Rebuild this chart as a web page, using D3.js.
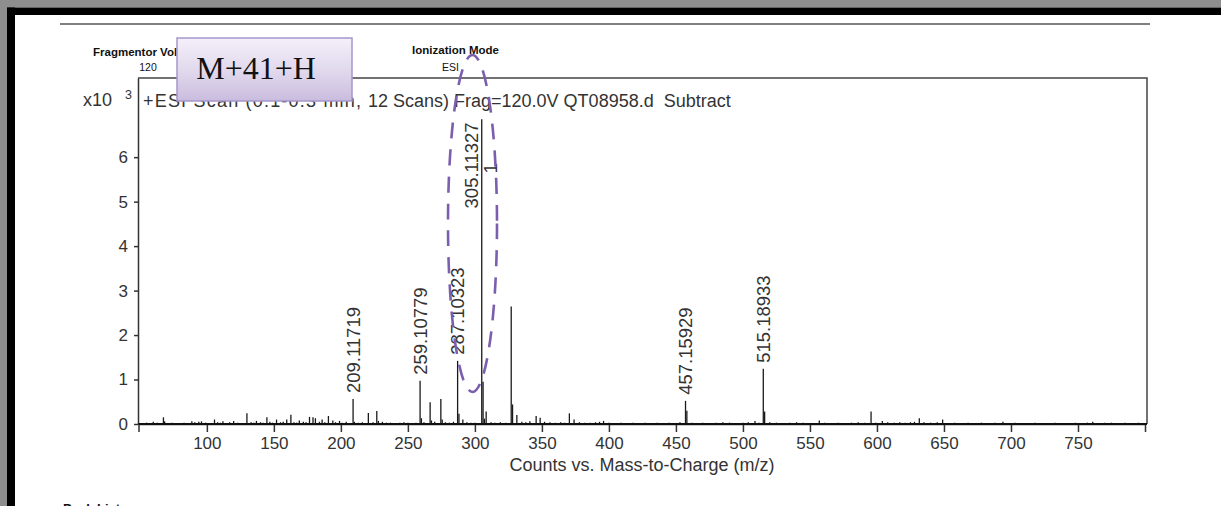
<!DOCTYPE html>
<html>
<head>
<meta charset="utf-8">
<script src="https://cdn.jsdelivr.net/npm/d3@7"></script>
<style>
  html, body { margin: 0; padding: 0; background: #fff; }
  svg { display: block; }
  text { font-family: "Liberation Sans", Arial, sans-serif; }
</style>
</head>
<body>
<svg id="chart" width="1221" height="506"></svg>
<script>
// ---------------- DATA (counts in units of 10^3) ----------------
const labeledMz     = [209.11719, 259.10779, 287.10323, 305.11327, 457.15929, 515.18933];
const labeledCounts = [0.56, 0.97, 1.42, 6.85, 0.52, 1.24];
const peakLabels    = ["209.11719", "259.10779", "287.10323", "305.11327", "457.15929", "515.18933"];

// other visible peaks [m/z, counts x10^3]
const minorPeaks = [
  [60,0.05],[67.6,0.15],[68.5,0.06],[88.8,0.06],[94,0.05],[96,0.06],[105.7,0.10],[112,0.06],
  [120,0.07],[129.9,0.24],[137,0.07],[144.8,0.15],[152,0.10],[159.6,0.10],[162.7,0.21],[169,0.08],
  [176.6,0.16],[179.2,0.15],[181,0.13],[186,0.10],[190.7,0.18],[194,0.08],[199,0.07],[210.1,0.05],
  [220.5,0.25],[226.8,0.29],[228,0.07],[260.1,0.13],[266.6,0.49],[267.6,0.08],[274.6,0.56],[275.6,0.10],
  [288.1,0.23],[291,0.10],[306.1,0.95],[307.1,0.12],[308.4,0.28],[327.1,2.64],[328.1,0.44],[331.3,0.20],
  [345.7,0.18],[348.7,0.14],[370.5,0.24],[374,0.10],[396,0.07],[458.16,0.30],[509,0.07],[516.19,0.28],
  [557,0.08],[595.6,0.28],[604,0.07],[631.6,0.13],[649,0.10],[694,0.05],[761,0.05]
];

// baseline noise [m/z, counts x10^3]
const noisePeaks = [
  [52,.02],[55,.03],[58,.02],[63,.03],[71,.02],[74,.03],[77,.02],[80,.02],[83,.03],[86,.02],[91,.04],[99,.03],
  [102,.02],[108,.04],[110,.03],[115,.02],[117,.04],[123,.03],[126,.02],[133,.04],[135,.03],[140,.04],[142,.03],
  [147,.05],[149,.03],[155,.04],[157,.05],[165,.04],[167,.03],[172,.05],[174,.04],[184,.05],[188,.04],[196,.04],
  [201,.03],[204,.05],[213,.03],[216,.04],[224,.04],[231,.05],[234,.03],[237,.03],[240,.02],[244,.03],[247,.04],
  [250,.03],[253,.02],[256,.03],[262,.04],[270,.05],[278,.04],[281,.03],[284,.05],[294,.04],[297,.03],[300,.03],
  [312,.04],[315,.03],[319,.04],[323,.03],[335,.05],[338,.04],[341,.06],[352,.05],[356,.04],[360,.03],[364,.04],
  [367,.03],[378,.04],[382,.03],[386,.03],[390,.04],[393,.05],[400,.03],[404,.02],[409,.03],[413,.02],[418,.03],
  [422,.02],[427,.03],[431,.02],[436,.03],[440,.02],[445,.03],[449,.02],[453,.04],[462,.03],[466,.02],[470,.03],
  [475,.02],[480,.03],[485,.04],[490,.03],[495,.02],[500,.03],[504,.04],[512,.03],[520,.04],[525,.03],[530,.02],
  [535,.03],[540,.04],[545,.03],[550,.02],[561,.03],[566,.02],[571,.03],[576,.02],[581,.03],[586,.04],[591,.03],
  [599,.03],[608,.04],[613,.03],[617,.04],[621,.03],[625,.04],[628,.05],[635,.04],[640,.03],[645,.04],[653,.02],
  [658,.03],[663,.02],[668,.03],[673,.02],[678,.03],[683,.02],[688,.03],[698,.02],[703,.03],[708,.02],[713,.02],
  [718,.03],[723,.02],[728,.02],[733,.03],[738,.02],[743,.02],[748,.03],[753,.02],[757,.03],[765,.02],[770,.03],
  [775,.03],[780,.02],[785,.03],[790,.02],[795,.03]
];

const xTicks = [100, 150, 200, 250, 300, 350, 400, 450, 500, 550, 600, 650, 700, 750];
const yTicks = [0, 1, 2, 3, 4, 5, 6];
const xDomain = [49, 800];
const yDomain = [0, 7.78];

const titleStart = "+ESI Scan (0.1-0.3 min,";
const titleRest  = "12 Scans) Frag=120.0V QT08958.d  Subtract";
const axisTitle  = "Counts vs. Mass-to-Charge (m/z)";
const yMultiplier = "x10";
const yExponent = "3";
const annotationText = "M+41+H";
const compoundMarker = "1";

// ---------------- DRAWING ----------------
const svg = d3.select("#chart");
const W = 1221, H = 506;
const L = 138.5, R = 1145, T = 78, B = 424;

svg.append("rect").attr("width", W).attr("height", H).attr("fill", "#fff");
// page frame
svg.append("rect").attr("x", 0).attr("y", 0).attr("width", W).attr("height", 7.5).attr("fill", "#8e8e8e");
svg.append("rect").attr("x", 0).attr("y", 0).attr("width", 7).attr("height", H).attr("fill", "#8e8e8e");
svg.append("rect").attr("x", 7).attr("y", 7.5).attr("width", W - 7).attr("height", 7.5).attr("fill", "#000");
svg.append("rect").attr("x", 7).attr("y", 7.5).attr("width", 8).attr("height", H).attr("fill", "#000");

// header rule
svg.append("line").attr("x1", 60).attr("x2", 1150).attr("y1", 24).attr("y2", 24)
  .attr("stroke", "#555").attr("stroke-width", 1.5);

// header texts
const hdr = svg.append("g").style("font-family", "Lato, 'Open Sans', sans-serif").attr("fill", "#111");
hdr.append("text").attr("x", 93).attr("y", 56)
  .style("font-size", "11.5px").style("font-weight", "bold").text("Fragmentor Voltage");
hdr.append("text").attr("x", 148).attr("y", 71).attr("text-anchor", "middle")
  .style("font-size", "10.5px").text("120");
hdr.append("text").attr("x", 455.5).attr("y", 54).attr("text-anchor", "middle")
  .style("font-size", "11.5px").style("font-weight", "bold").text("Ionization Mode");
hdr.append("text").attr("x", 450.5).attr("y", 71).attr("text-anchor", "middle")
  .style("font-size", "10.5px").text("ESI");
hdr.append("text").attr("x", 63).attr("y", 513)
  .style("font-size", "13px").style("font-weight", "bold").text("Peak List");

const x = d3.scaleLinear().domain(xDomain).range([L, R]);
const y = d3.scaleLinear().domain(yDomain).range([B, T]);

// plot frame (top + right)
svg.append("path").attr("d", `M${L - 0.5},${T}H${R + 2}V${B}`)
  .attr("fill", "none").attr("stroke", "#444").attr("stroke-width", 1.5);

// peaks
const pk = svg.append("g").attr("stroke", "#1a1a1a");
pk.selectAll("line.noise").data(noisePeaks).join("line").attr("class", "noise")
  .attr("x1", d => x(d[0])).attr("x2", d => x(d[0]))
  .attr("y1", B).attr("y2", d => y(d[1])).attr("stroke-width", 1.3);
pk.selectAll("line.minor").data(minorPeaks).join("line").attr("class", "minor")
  .attr("x1", d => x(d[0])).attr("x2", d => x(d[0]))
  .attr("y1", B).attr("y2", d => y(d[1])).attr("stroke-width", 1.3);
pk.selectAll("line.major").data(labeledMz).join("line").attr("class", "major")
  .attr("x1", d => x(d)).attr("x2", d => x(d))
  .attr("y1", B).attr("y2", (d, i) => y(labeledCounts[i])).attr("stroke-width", 1.3);

// axes
const xAxis = svg.append("g").attr("transform", `translate(0,${B})`)
  .call(d3.axisBottom(x).tickValues(xTicks).tickSize(8).tickSizeOuter(8).tickPadding(5).tickFormat(d3.format("d")));
const yAxis = svg.append("g").attr("transform", `translate(${L - 0.5},0)`)
  .call(d3.axisLeft(y).tickValues(yTicks).tickSize(4).tickSizeOuter(0).tickPadding(6).tickFormat(d3.format("d")));
[xAxis, yAxis].forEach(a => {
  a.selectAll("path, line").attr("stroke", "#333").attr("stroke-width", 1.5);
  a.selectAll("text").attr("fill", "#333").style("font-size", "17px")
    .style("font-family", "'Liberation Sans', Arial, sans-serif");
});

// baseline thick
svg.append("line").attr("x1", L).attr("x2", R + 2).attr("y1", B).attr("y2", B)
  .attr("stroke", "#111").attr("stroke-width", 2);

// peak labels (rotated)
const lbl = svg.append("g").attr("fill", "#333").style("font-size", "18.5px");
labeledMz.forEach((mz, i) => {
  const px = x(mz), py = y(labeledCounts[i]);
  const beside = labeledCounts[i] > 5;
  const bx = beside ? px - 3.5 : px + 6.5;
  const by = beside ? py + 3 : py - 6;
  lbl.append("text")
    .attr("transform", `translate(${bx},${by}) rotate(-90)`)
    .attr("text-anchor", beside ? "end" : "start")
    .text(peakLabels[i]);
  if (beside) {
    lbl.append("text")
      .attr("transform", `translate(${px + 15.5},${py + 49}) rotate(-90)`)
      .attr("text-anchor", "middle")
      .text(compoundMarker);
  }
});

// y multiplier and title
const tt = svg.append("g").attr("fill", "#333").style("font-size", "18px");
tt.append("text").attr("x", 83).attr("y", 106).text(yMultiplier);
tt.append("text").attr("x", 125).attr("y", 99).style("font-size", "12.5px").text(yExponent);
tt.append("text").attr("x", 143).attr("y", 106.5).attr("textLength", 218).attr("lengthAdjust", "spacing")
  .text(titleStart);
tt.append("text").attr("x", 368).attr("y", 106.5).style("white-space", "pre").text(titleRest);
tt.append("text").attr("x", 642).attr("y", 471).attr("text-anchor", "middle").text(axisTitle);

// annotation box
const defs = svg.append("defs");
const grad = defs.append("linearGradient").attr("id", "boxg").attr("x1", 0).attr("x2", 0).attr("y1", 0).attr("y2", 1);
grad.append("stop").attr("offset", "0%").attr("stop-color", "#f4f0f9");
grad.append("stop").attr("offset", "55%").attr("stop-color", "#e0d7ec");
grad.append("stop").attr("offset", "100%").attr("stop-color", "#c9bcde");
svg.append("rect").attr("x", 177).attr("y", 38).attr("width", 175).attr("height", 63)
  .attr("fill", "url(#boxg)").attr("stroke", "#a797cb").attr("stroke-width", 1.5);
svg.append("text").attr("x", 256).attr("y", 79).attr("text-anchor", "middle")
  .style("font-family", "'Liberation Serif', 'Times New Roman', serif").style("font-size", "32px")
  .attr("fill", "#111").text(annotationText);

// dashed ellipse highlight around the main peak
svg.append("ellipse").attr("cx", 472.5).attr("cy", 223.5).attr("rx", 24.5).attr("ry", 168.5)
  .attr("fill", "none").attr("stroke", "#7b5fae").attr("stroke-width", 2.6)
  .attr("stroke-dasharray", "16 11");
</script>
</body>
</html>
